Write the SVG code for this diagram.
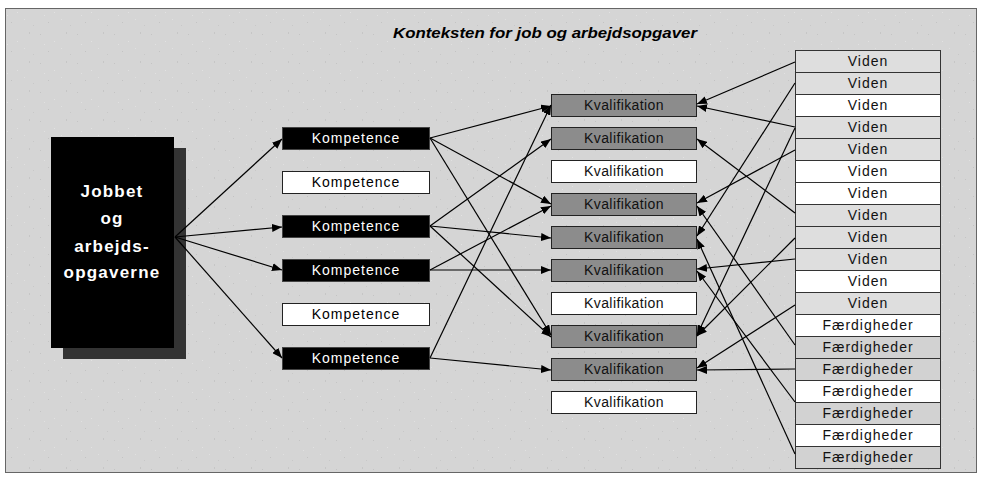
<svg xmlns="http://www.w3.org/2000/svg" width="984" height="481" viewBox="0 0 984 481">
<style>
text{font-family:"Liberation Sans",Arial,sans-serif;text-anchor:middle}
.kb{fill:#000;stroke:#444;stroke-width:1}
.kw{fill:#fff;stroke:#222;stroke-width:1}
.tk{font-size:14px;letter-spacing:1px}
.tw{fill:#fff}
.tb{fill:#000}
.qg{fill:#8c8c8c;stroke:#222;stroke-width:1}
.qw{fill:#fff;stroke:#222;stroke-width:1}
.tq{font-size:14px;letter-spacing:0.4px;fill:#111}
.rl{fill:#dedede;stroke:#333;stroke-width:1}
.rd{fill:#d2d2d2;stroke:#333;stroke-width:1}
.rw{fill:#fff;stroke:#333;stroke-width:1}
.tr{font-size:14px;letter-spacing:1px;fill:#111}
.c line{stroke:#000;stroke-width:1.2;marker-end:url(#ah)}
</style>
<defs>
<marker id="ah" markerUnits="userSpaceOnUse" markerWidth="11" markerHeight="8" refX="10" refY="4" orient="auto">
<path d="M0,0 L10,4 L0,8 z" fill="#000"/>
</marker>
<pattern id="spk" patternUnits="userSpaceOnUse" width="37" height="29">
<rect width="37" height="29" fill="#d5d5d5"/>
<rect x="3" y="5" width="1" height="1" fill="#c4c4c4"/>
<rect x="17" y="12" width="1" height="1" fill="#e2e2e2"/>
<rect x="29" y="3" width="1" height="2" fill="#c6c6c6"/>
<rect x="11" y="22" width="1" height="1" fill="#c3c3c3"/>
<rect x="24" y="19" width="1" height="1" fill="#e0e0e0"/>
<rect x="33" y="25" width="1" height="1" fill="#c8c8c8"/>
<rect x="7" y="15" width="1" height="1" fill="#e1e1e1"/>
</pattern>
</defs>
<rect x="0" y="0" width="984" height="481" fill="#fff"/>
<rect x="5.5" y="8.5" width="971" height="464" fill="url(#spk)" stroke="#666" stroke-width="1"/>
<text x="545" y="38" font-size="15" font-weight="bold" font-style="italic" textLength="304" lengthAdjust="spacingAndGlyphs">Konteksten for job og arbejdsopgaver</text>

<g id="job">
<rect x="63" y="148" width="123" height="211" fill="#333"/>
<rect x="51" y="137" width="123" height="211" fill="#000"/>
<text x="112" y="197" font-size="17" font-weight="bold" letter-spacing="1.2" fill="#fff">Jobbet</text>
<text x="112" y="224" font-size="17" font-weight="bold" letter-spacing="1.2" fill="#fff">og</text>
<text x="112" y="252" font-size="17" font-weight="bold" letter-spacing="1.2" fill="#fff">arbejds-</text>
<text x="112" y="278" font-size="17" font-weight="bold" letter-spacing="1.2" fill="#fff">opgaverne</text>
</g>

<g id="komp1"><rect class="kb" x="282.5" y="127.5" width="147" height="22"/><text class="tk tw" x="356" y="143">Kompetence</text></g>
<g id="komp2"><rect class="kw" x="282.5" y="171.5" width="147" height="22"/><text class="tk tb" x="356" y="187">Kompetence</text></g>
<g id="komp3"><rect class="kb" x="282.5" y="215.5" width="147" height="22"/><text class="tk tw" x="356" y="231">Kompetence</text></g>
<g id="komp4"><rect class="kb" x="282.5" y="259.5" width="147" height="22"/><text class="tk tw" x="356" y="275">Kompetence</text></g>
<g id="komp5"><rect class="kw" x="282.5" y="303.5" width="147" height="22"/><text class="tk tb" x="356" y="319">Kompetence</text></g>
<g id="komp6"><rect class="kb" x="282.5" y="347.5" width="147" height="22"/><text class="tk tw" x="356" y="363">Kompetence</text></g>

<g id="kval1"><rect class="qg" x="551.5" y="94.5" width="145" height="22"/><text class="tq" x="624" y="110">Kvalifikation</text></g>
<g id="kval2"><rect class="qg" x="551.5" y="127.5" width="145" height="22"/><text class="tq" x="624" y="143">Kvalifikation</text></g>
<g id="kval3"><rect class="qw" x="551.5" y="160.5" width="145" height="22"/><text class="tq" x="624" y="176">Kvalifikation</text></g>
<g id="kval4"><rect class="qg" x="551.5" y="193.5" width="145" height="22"/><text class="tq" x="624" y="209">Kvalifikation</text></g>
<g id="kval5"><rect class="qg" x="551.5" y="226.5" width="145" height="22"/><text class="tq" x="624" y="242">Kvalifikation</text></g>
<g id="kval6"><rect class="qg" x="551.5" y="259.5" width="145" height="22"/><text class="tq" x="624" y="275">Kvalifikation</text></g>
<g id="kval7"><rect class="qw" x="551.5" y="292.5" width="145" height="22"/><text class="tq" x="624" y="308">Kvalifikation</text></g>
<g id="kval8"><rect class="qg" x="551.5" y="325.5" width="145" height="22"/><text class="tq" x="624" y="341">Kvalifikation</text></g>
<g id="kval9"><rect class="qg" x="551.5" y="358.5" width="145" height="22"/><text class="tq" x="624" y="374">Kvalifikation</text></g>
<g id="kval10"><rect class="qw" x="551.5" y="391.5" width="145" height="22"/><text class="tq" x="624" y="407">Kvalifikation</text></g>

<g id="viden1"><rect class="rl" x="795.5" y="50.5" width="145" height="22"/><text class="tr" x="868" y="66">Viden</text></g>
<g id="viden2"><rect class="rl" x="795.5" y="72.5" width="145" height="22"/><text class="tr" x="868" y="88">Viden</text></g>
<g id="viden3"><rect class="rw" x="795.5" y="94.5" width="145" height="22"/><text class="tr" x="868" y="110">Viden</text></g>
<g id="viden4"><rect class="rl" x="795.5" y="116.5" width="145" height="22"/><text class="tr" x="868" y="132">Viden</text></g>
<g id="viden5"><rect class="rl" x="795.5" y="138.5" width="145" height="22"/><text class="tr" x="868" y="154">Viden</text></g>
<g id="viden6"><rect class="rw" x="795.5" y="160.5" width="145" height="22"/><text class="tr" x="868" y="176">Viden</text></g>
<g id="viden7"><rect class="rw" x="795.5" y="182.5" width="145" height="22"/><text class="tr" x="868" y="198">Viden</text></g>
<g id="viden8"><rect class="rl" x="795.5" y="204.5" width="145" height="22"/><text class="tr" x="868" y="220">Viden</text></g>
<g id="viden9"><rect class="rl" x="795.5" y="226.5" width="145" height="22"/><text class="tr" x="868" y="242">Viden</text></g>
<g id="viden10"><rect class="rl" x="795.5" y="248.5" width="145" height="22"/><text class="tr" x="868" y="264">Viden</text></g>
<g id="viden11"><rect class="rw" x="795.5" y="270.5" width="145" height="22"/><text class="tr" x="868" y="286">Viden</text></g>
<g id="viden12"><rect class="rl" x="795.5" y="292.5" width="145" height="22"/><text class="tr" x="868" y="308">Viden</text></g>
<g id="faerd1"><rect class="rw" x="795.5" y="314.5" width="145" height="22"/><text class="tr" x="868" y="330">Færdigheder</text></g>
<g id="faerd2"><rect class="rd" x="795.5" y="336.5" width="145" height="22"/><text class="tr" x="868" y="352">Færdigheder</text></g>
<g id="faerd3"><rect class="rd" x="795.5" y="358.5" width="145" height="22"/><text class="tr" x="868" y="374">Færdigheder</text></g>
<g id="faerd4"><rect class="rw" x="795.5" y="380.5" width="145" height="22"/><text class="tr" x="868" y="396">Færdigheder</text></g>
<g id="faerd5"><rect class="rd" x="795.5" y="402.5" width="145" height="22"/><text class="tr" x="868" y="418">Færdigheder</text></g>
<g id="faerd6"><rect class="rw" x="795.5" y="424.5" width="145" height="22"/><text class="tr" x="868" y="440">Færdigheder</text></g>
<g id="faerd7"><rect class="rd" x="795.5" y="446.5" width="145" height="22"/><text class="tr" x="868" y="462">Færdigheder</text></g>

<g class="c" id="connectors">
<line x1="175" y1="237" x2="282" y2="139"/>
<line x1="175" y1="237" x2="282" y2="227"/>
<line x1="175" y1="237" x2="282" y2="270"/>
<line x1="175" y1="237" x2="282" y2="358"/>

<line x1="430" y1="138" x2="551" y2="106"/>
<line x1="430" y1="138" x2="551" y2="204"/>
<line x1="430" y1="138" x2="551" y2="335"/>
<line x1="430" y1="226" x2="551" y2="139"/>
<line x1="430" y1="226" x2="551" y2="238"/>
<line x1="430" y1="226" x2="551" y2="337"/>
<line x1="430" y1="270" x2="551" y2="206"/>
<line x1="430" y1="270" x2="551" y2="270"/>
<line x1="430" y1="358" x2="551" y2="105"/>
<line x1="430" y1="358" x2="551" y2="370"/>

<line x1="795" y1="62" x2="697" y2="104"/>
<line x1="795" y1="127" x2="697" y2="106"/>
<line x1="795" y1="83" x2="697" y2="236"/>
<line x1="795" y1="128" x2="697" y2="335"/>
<line x1="795" y1="150" x2="697" y2="203"/>
<line x1="795" y1="213" x2="697" y2="139"/>
<line x1="795" y1="238" x2="697" y2="336"/>
<line x1="795" y1="259" x2="697" y2="269"/>
<line x1="795" y1="305" x2="697" y2="368"/>
<line x1="795" y1="345" x2="697" y2="206"/>
<line x1="795" y1="369" x2="697" y2="370"/>
<line x1="795" y1="402" x2="697" y2="271"/>
<line x1="795" y1="454" x2="697" y2="239"/>
</g>
</svg>
